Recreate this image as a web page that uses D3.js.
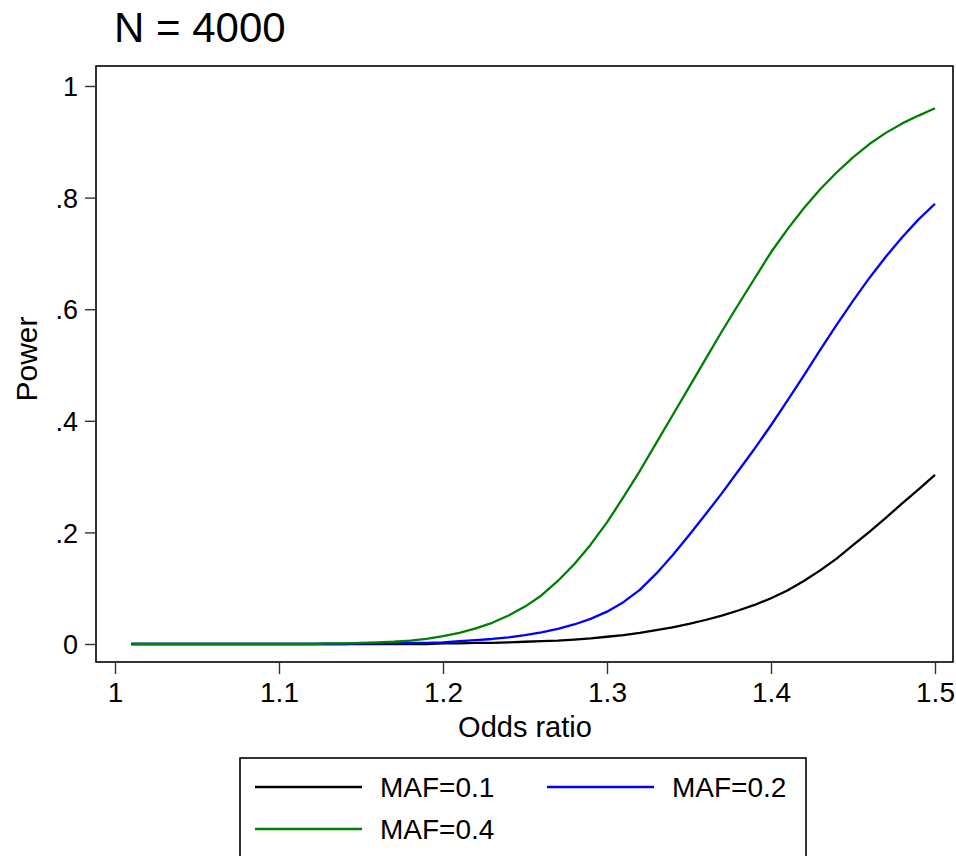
<!DOCTYPE html>
<html>
<head>
<meta charset="utf-8">
<script src="https://cdn.jsdelivr.net/npm/d3@7"></script>
<style>
  html, body { margin: 0; padding: 0; background: #fff; }
  svg text { font-family: "Liberation Sans", Arial, Helvetica, sans-serif; fill: #000; }
</style>
</head>
<body>
<svg id="chart" width="956" height="856"></svg>
<script>
// Power by odds ratio, N = 4000
const oddsRatio = [1.01,1.02,1.03,1.04,1.05,1.06,1.07,1.08,1.09,1.10,
                   1.11,1.12,1.13,1.14,1.15,1.16,1.17,1.18,1.19,1.20,
                   1.21,1.22,1.23,1.24,1.25,1.26,1.27,1.28,1.29,1.30,
                   1.31,1.32,1.33,1.34,1.35,1.36,1.37,1.38,1.39,1.40,
                   1.41,1.42,1.43,1.44,1.45,1.46,1.47,1.48,1.49,1.50];

const powerMaf01 = [0,0,0,0,0,0,0,0,0,0,
                    0,0,0,0,0,0,0,0,0,0.001,
                    0.001,0.002,0.002,0.003,0.004,0.005,0.006,0.008,0.010,0.013,
                    0.016,0.020,0.025,0.030,0.036,0.043,0.051,0.060,0.070,0.082,
                    0.096,0.113,0.132,0.153,0.177,0.201,0.226,0.252,0.277,0.303];

const powerMaf02 = [0,0,0,0,0,0,0,0,0,0,
                    0,0,0,0,0.001,0.001,0.001,0.002,0.002,0.003,
                    0.005,0.007,0.009,0.012,0.016,0.021,0.027,0.035,0.045,0.058,
                    0.075,0.097,0.126,0.159,0.195,0.232,0.270,0.310,0.350,0.392,
                    0.436,0.481,0.527,0.572,0.615,0.656,0.694,0.729,0.761,0.789];

const powerMaf04 = [0,0,0,0,0,0,0,0,0,0,
                    0,0,0.001,0.001,0.002,0.003,0.004,0.006,0.009,0.014,
                    0.020,0.028,0.038,0.051,0.067,0.087,0.113,0.143,0.178,0.218,
                    0.263,0.310,0.360,0.410,0.460,0.510,0.560,0.608,0.655,0.702,
                    0.743,0.781,0.815,0.845,0.872,0.896,0.916,0.933,0.947,0.960];

const seriesNames = ["MAF=0.1", "MAF=0.2", "MAF=0.4"];
const seriesColors = ["#000000", "#0000ff", "#008000"];

const xTicks = [1, 1.1, 1.2, 1.3, 1.4, 1.5];
const yTicks = [0, 0.2, 0.4, 0.6, 0.8, 1];

const series = [powerMaf01, powerMaf02, powerMaf04].map((vals, i) => ({
  name: seriesNames[i],
  color: seriesColors[i],
  points: oddsRatio.map((or, j) => ({ or, p: vals[j] }))
}));

const svg = d3.select("#chart");

// plot region frame
const frame = { left: 96, top: 66, right: 953, bottom: 662 };

const x = d3.scaleLinear().domain([1, 1.5]).range([115, 935]);
const y = d3.scaleLinear().domain([0, 1]).range([644, 86]);

// title
svg.append("text")
  .attr("x", 114).attr("y", 42)
  .style("font-size", "42px")
  .text("N = 4000");

// frame
svg.append("rect")
  .attr("x", frame.left).attr("y", frame.top)
  .attr("width", frame.right - frame.left)
  .attr("height", frame.bottom - frame.top)
  .attr("fill", "none").attr("stroke", "#000").attr("stroke-width", 1.6);

// y axis: labels like "1", ".8", "0"
const yFmt = v => v === 0 ? "0" : v === 1 ? "1" : d3.format(".1f")(v).replace(/^0/, "");
const yAxis = d3.axisLeft(y).tickValues(yTicks).tickSize(11).tickPadding(7).tickFormat(yFmt);
const gy = svg.append("g").attr("transform", `translate(${frame.left},0)`).call(yAxis);
gy.select(".domain").remove();
gy.selectAll(".tick line").attr("stroke", "#333").attr("stroke-width", 1.4);
gy.selectAll(".tick text")
  .attr("font-family", null).attr("font-size", null)
  .style("font-size", "27px")
  .attr("dy", "0.36em");

// x axis
const xAxis = d3.axisBottom(x).tickValues(xTicks).tickSize(12).tickPadding(8).tickFormat(d3.format("~g"));
const gx = svg.append("g").attr("transform", `translate(0,${frame.bottom})`).call(xAxis);
gx.select(".domain").remove();
gx.selectAll(".tick line").attr("stroke", "#333").attr("stroke-width", 1.4);
gx.selectAll(".tick text")
  .attr("font-family", null).attr("font-size", null)
  .style("font-size", "28px")
  .attr("dy", "0.72em");

// axis titles
svg.append("text")
  .attr("x", 525).attr("y", 737)
  .attr("text-anchor", "middle")
  .style("font-size", "29px")
  .text("Odds ratio");

svg.append("text")
  .attr("transform", "translate(37,359) rotate(-90)")
  .attr("text-anchor", "middle")
  .style("font-size", "30px")
  .text("Power");

// curves
const line = d3.line().x(d => x(d.or)).y(d => y(d.p));
svg.append("g").selectAll("path")
  .data(series)
  .join("path")
  .attr("d", d => line(d.points))
  .attr("fill", "none")
  .attr("stroke", d => d.color)
  .attr("stroke-width", 2.3)
  .attr("stroke-linejoin", "round");

// legend
const legend = svg.append("g");
legend.append("rect")
  .attr("x", 240).attr("y", 758)
  .attr("width", 566).attr("height", 110)
  .attr("fill", "#fff").attr("stroke", "#000").attr("stroke-width", 1.6);

const legendPos = [
  { lx: 255, ly: 787, tx: 380 },
  { lx: 547, ly: 787, tx: 672 },
  { lx: 255, ly: 829, tx: 380 }
];
series.forEach((s, i) => {
  const p = legendPos[i];
  legend.append("line")
    .attr("x1", p.lx).attr("x2", p.lx + 107)
    .attr("y1", p.ly).attr("y2", p.ly)
    .attr("stroke", s.color).attr("stroke-width", 2.3);
  legend.append("text")
    .attr("x", p.tx).attr("y", p.ly + 10)
    .style("font-size", "28px")
    .text(s.name);
});
</script>
</body>
</html>
